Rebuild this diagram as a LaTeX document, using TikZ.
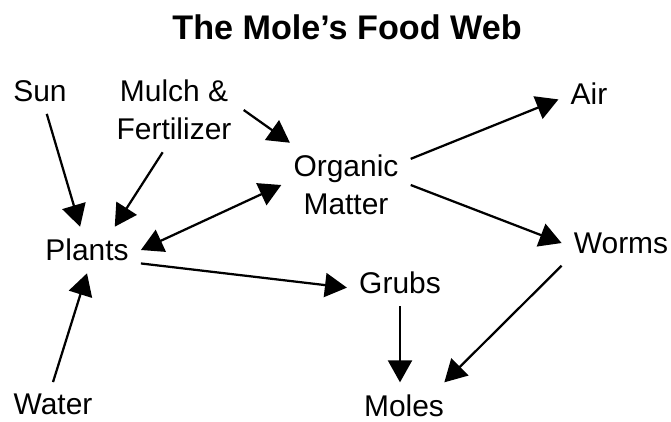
\documentclass[tikz,border=0pt]{standalone}
\usepackage{fontspec}
\setmainfont{Liberation Sans}
\usetikzlibrary{arrows.meta}

\begin{document}
\begin{tikzpicture}[
		item/.style={inner sep=0.3cm, align=center, font=\fontsize{21.3}{27}\selectfont},
		link/.style={line width=1.6pt, -{Triangle[length=0.55cm, width=0.6cm]}},
		twolink/.style={line width=1.6pt, {Triangle[length=0.55cm, width=0.6cm]}-{Triangle[length=0.55cm, width=0.6cm]}}
	]
		\useasboundingbox (0, 0) rectangle (16.775, -10.525);
		\node (title) at (8.675, -0.675) {\fontsize{24.3}{29}\selectfont\bfseries The Mole’s Food Web};
		\node [item] (sun) at (1.00, -2.275) {Sun};
		\node [item] (mulch) at (4.35, -2.75) {Mulch \&\\Fertilizer};
		\node [item] (organic) at (8.65, -4.625) {Organic\\Matter};
		\node [item] (air) at (14.725, -2.35) {Air};
		\node [item] (plants) at (2.175, -6.25) {Plants};
		\node [item] (worms) at (15.525, -6.075) {Worms};
		\node [item] (grubs) at (10.0, -7.075) {Grubs};
		\node [item] (water) at (1.325, -10.12) {Water};
		\node [item] (moles) at (10.1, -10.14) {Moles};
		\draw [link] (sun) -- (plants);
		\draw [link] (mulch.-105) -- (plants.40);
		\draw [link] (mulch.east) -- (organic.143);
		\draw [twolink] (plants.east) -- (organic.west);
		\draw [link] (plants.-14) -- (grubs.185);
		\draw [link] (water.north) -- (plants.south);
		\draw [link] (organic.22) -- (air.190);
		\draw [link] (organic.east) -- (worms.west);
		\draw [link] (grubs.south) -- (grubs.south |- moles.north);
		\draw [link] (worms.south west) -- (moles.30);
	\end{tikzpicture}
\end{document}
